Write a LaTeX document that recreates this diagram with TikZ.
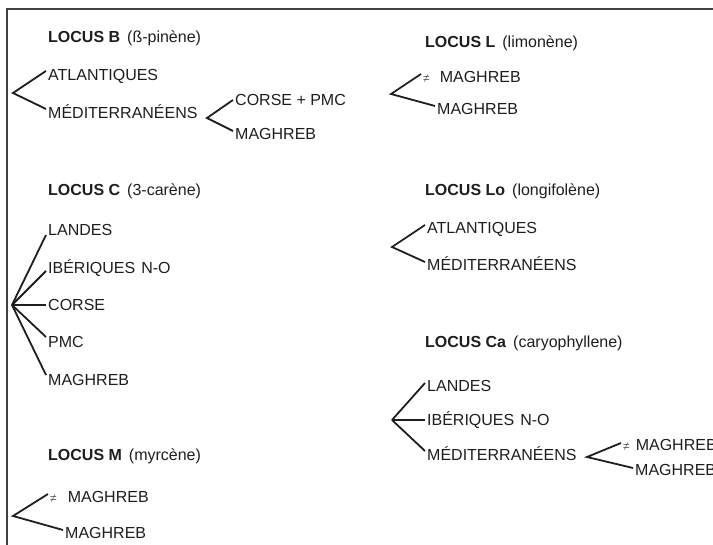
\documentclass[tikz,border=0pt]{standalone}
\usepackage{fontspec}
\setmainfont{Liberation Sans}
\usetikzlibrary{calc}
\definecolor{ink}{HTML}{1E1E1E}
\newcommand{\neqsign}{{\fontsize{12}{12}\selectfont\color{ink!70}≠}}
\begin{document}
\begin{tikzpicture}[x=1pt,y=-1pt,
  item/.style={anchor=west,inner sep=0pt,text height=11.5pt,text depth=0pt,
    font=\fontsize{16}{16}\selectfont,text=ink},
  head/.style={item},
  br/.style={line width=1.8pt,draw=ink,line join=miter},
  frame/.style={line width=1.5pt,draw=ink!85}]
\useasboundingbox (0,0) rectangle (713,545);
\clip (0,0) rectangle (713,545);
\draw[frame] (7,545) -- (7,9) -- (713,9);

% ---------- LOCUS B ----------
\node[head] (hB) at (48,37) {\textbf{LOCUS B}\hspace{7pt}(ß-pinène)};
\node[item] (b1) at (48,75) {ATLANTIQUES};
\node[item] (b2) at (48,113) {MÉDITERRANÉENS};
\node[item] (b3) at (235,100) {CORSE + PMC};
\node[item] (b4) at (235,134) {MAGHREB};
\coordinate (aB) at (13,93);
\coordinate (aB2) at (207,118);
\draw[br] ($(b1.west)+(-2,-4)$) -- (aB) -- ($(b2.west)+(-2,-4)$);
\draw[br] ($(b3.west)+(-2,0)$) -- (aB2) -- ($(b4.west)+(-2,-3)$);

% ---------- LOCUS L ----------
\node[head] (hL) at (425,42) {\textbf{LOCUS L}\hspace{7pt}(limonène)};
\node[item] (l1) at (423,77) {\neqsign\hspace{10pt}MAGHREB};
\node[item] (l2) at (437,109) {MAGHREB};
\coordinate (aL) at (391,94);
\draw[br] ($(l1.west)+(-2,-3)$) -- (aL) -- ($(l2.west)+(-2,-3)$);

% ---------- LOCUS C ----------
\node[head] (hC) at (48,190) {\textbf{LOCUS C}\hspace{7pt}(3-carène)};
\node[item] (c1) at (48,230) {LANDES};
\node[item] (c2) at (48,268) {IBÉRIQUES\hspace{6pt}N-O};
\node[item] (c3) at (48,305) {CORSE};
\node[item] (c4) at (48,342) {PMC};
\node[item] (c5) at (48,380) {MAGHREB};
\coordinate (aC) at (12,305);
\draw[br] (aC) -- ($(c1.west)+(-2,5)$);
\draw[br] (aC) -- ($(c2.west)+(-2,3)$);
\draw[br] (aC) -- ($(c3.west)+(-2,0)$);
\draw[br] (aC) -- ($(c4.west)+(-2,-5)$);
\draw[br] (aC) -- ($(c5.west)+(-2,-5)$);

% ---------- LOCUS M ----------
\node[head] (hM) at (48,455) {\textbf{LOCUS M}\hspace{7pt}(myrcène)};
\node[item] (m1) at (50,497) {\neqsign\hspace{11pt}MAGHREB};
\node[item] (m2) at (65,533) {MAGHREB};
\coordinate (aM) at (13,516);
\draw[br] ($(m1.west)+(-2,-3)$) -- (aM) -- ($(m2.west)+(-2,-3)$);

% ---------- LOCUS Lo ----------
\node[head] (hLo) at (425,190) {\textbf{LOCUS Lo}\hspace{7pt}(longifolène)};
\node[item] (o1) at (427,228) {ATLANTIQUES};
\node[item] (o2) at (427,265) {MÉDITERRANÉENS};
\coordinate (aLo) at (392,247);
\draw[br] ($(o1.west)+(-2,-3)$) -- (aLo) -- ($(o2.west)+(-2,-3)$);

% ---------- LOCUS Ca ----------
\node[head] (hCa) at (425,342) {\textbf{LOCUS Ca}\hspace{7pt}(caryophyllene)};
\node[item] (k1) at (427,386) {LANDES};
\node[item] (k2) at (427,420) {IBÉRIQUES\hspace{6pt}N-O};
\node[item] (k3) at (427,455) {MÉDITERRANÉENS};
\node[item] (k4) at (623,445) {\neqsign\hspace{6pt}MAGHREB};
\node[item] (k5) at (635,470) {MAGHREB};
\coordinate (aCa) at (392,420);
\coordinate (aCa2) at (587,457);
\draw[br] (aCa) -- ($(k1.west)+(-2,-3)$);
\draw[br] (aCa) -- ($(k2.west)+(-2,0)$);
\draw[br] (aCa) -- ($(k3.west)+(-2,-4)$);
\draw[br] ($(k4.west)+(-2,-2)$) -- (aCa2) -- ($(k5.west)+(-2,-2)$);
\end{tikzpicture}
\end{document}
